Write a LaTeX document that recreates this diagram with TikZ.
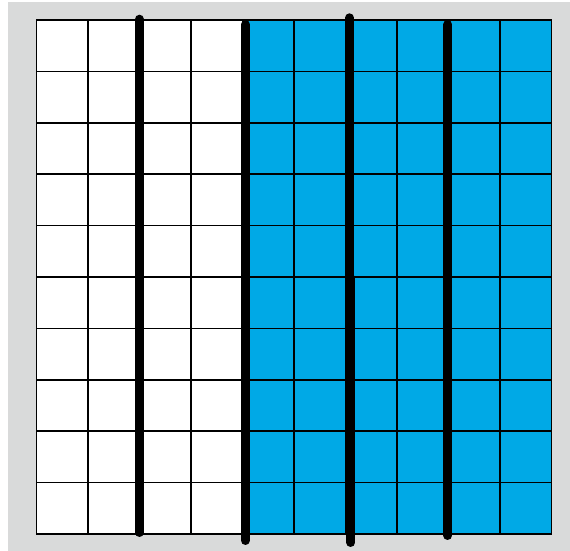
\documentclass[tikz,border=0pt]{standalone}
\definecolor{panelgray}{RGB}{217,218,218}
\definecolor{tenthblue}{RGB}{0,169,230}
\begin{document}
\begin{tikzpicture}[x=1pt, y=1pt, thick line/.style={line width=9pt, line cap=round}]
            \useasboundingbox (0,0) rectangle (570,551);
            \fill[panelgray] (8,0) rectangle (570,549);
            \begin{scope}[shift={(36.7,17)}]
                \fill[white] (0,0) rectangle (206,514);
                \fill[tenthblue] (206,0) rectangle (515,514);
                \draw[line width=1.5pt, xstep=51.5, ystep=51.4] (0,0) grid (515,514);
                \draw[line width=1.5pt] (0,0) rectangle (515,514);
            \end{scope}
            \draw[thick line] (139.4,531.8) -- (139.4,18.5);
            \draw[thick line] (245.4,526.5) -- (245.4,10.5);
            \draw[thick line] (349.5,533.2) -- (349.5,273);
            \draw[thick line] (350.8,273) -- (350.8,8.5);
            \draw[thick line] (447.8,526.5) -- (447.8,15.5);
\end{tikzpicture}
\end{document}
